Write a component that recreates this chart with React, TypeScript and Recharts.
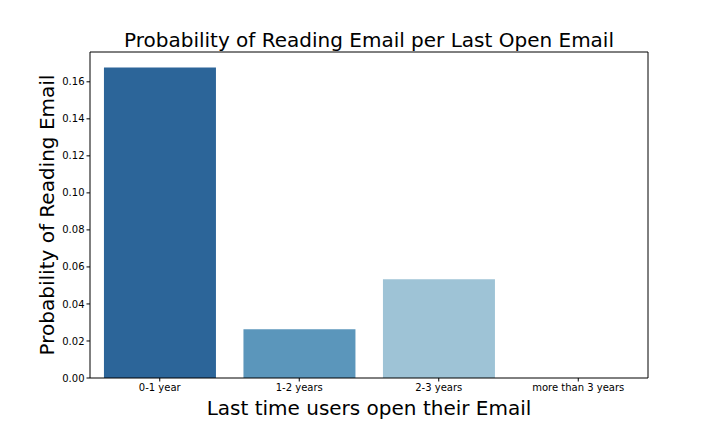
import React from "react";
import { BarChart, Bar, XAxis, YAxis, Cell } from "recharts";

const categories = ["0-1 year", "1-2 years", "2-3 years", "more than 3 years"];
const probabilities = [0.1677, 0.0264, 0.0534, 0.0];
const barColors = ["#2c6599", "#5b96bb", "#9ec3d6", "#d6e6f0"];
const yTicks = [0, 0.02, 0.04, 0.06, 0.08, 0.1, 0.12, 0.14, 0.16];
const yMax = 0.1761;

const data = categories.map((c, i) => ({ name: c, value: probabilities[i] }));

const font = "DejaVu Sans, sans-serif";

export default function App() {
  return (
    <div style={{ position: "relative", width: 720, height: 432, background: "#fff", margin: -8 }}>
      <BarChart
        width={720}
        height={432}
        data={data}
        margin={{ top: 51, right: 71, bottom: 0, left: 40 }}
        barCategoryGap="10%"
      >
        <XAxis
          dataKey="name"
          xAxisId="bottom"
          height={54}
          tickSize={3.5}
          tickLine={{ stroke: "#000" }}
          axisLine={{ stroke: "#000" }}
          tick={{ fill: "#000", fontSize: 10, fontFamily: font }}
          interval={0}
        />
        <XAxis
          dataKey="name"
          xAxisId="top"
          orientation="top"
          height={1}
          tick={false}
          tickLine={false}
          axisLine={{ stroke: "#000" }}
        />
        <YAxis
          yAxisId="left"
          width={50}
          domain={[0, yMax]}
          ticks={yTicks}
          tickFormatter={(v: number) => v.toFixed(2)}
          tickSize={3.5}
          tickLine={{ stroke: "#000" }}
          axisLine={{ stroke: "#000" }}
          tick={{ fill: "#000", fontSize: 10, fontFamily: font }}
          allowDataOverflow
        />
        <YAxis
          yAxisId="right"
          orientation="right"
          width={1}
          domain={[0, yMax]}
          tick={false}
          tickLine={false}
          axisLine={{ stroke: "#000" }}
        />
        <Bar dataKey="value" xAxisId="bottom" yAxisId="left" isAnimationActive={false}>
          {data.map((d, i) => (
            <Cell key={d.name} fill={barColors[i]} />
          ))}
        </Bar>
      </BarChart>
      <div
        style={{
          position: "absolute",
          left: 0,
          top: 28,
          width: 738,
          textAlign: "center",
          fontFamily: font,
          fontSize: 20,
          color: "#000",
          lineHeight: "24px",
        }}
      >
        Probability of Reading Email per Last Open Email
      </div>
      <div
        style={{
          position: "absolute",
          left: 90,
          top: 396,
          width: 558,
          textAlign: "center",
          fontFamily: font,
          fontSize: 20,
          color: "#000",
          lineHeight: "24px",
        }}
      >
        Last time users open their Email
      </div>
      <div
        style={{
          position: "absolute",
          left: 47 - 150,
          top: 215 - 12,
          width: 300,
          height: 24,
          textAlign: "center",
          fontFamily: font,
          fontSize: 20,
          color: "#000",
          lineHeight: "24px",
          transform: "rotate(-90deg)",
        }}
      >
        Probability of Reading Email
      </div>
    </div>
  );
}
